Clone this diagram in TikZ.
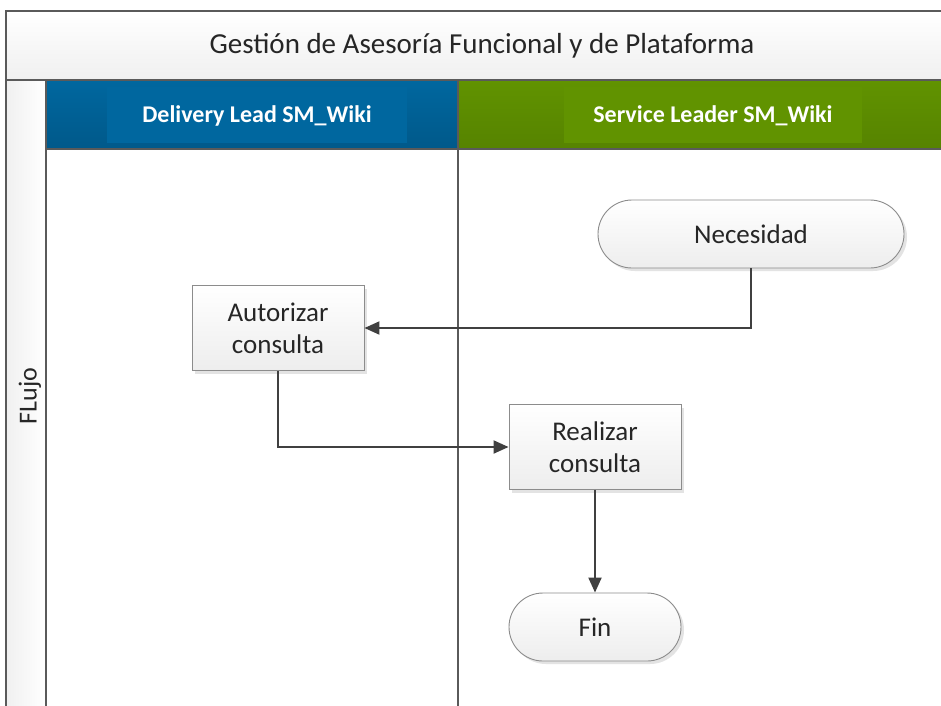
\documentclass[tikz,border=0pt]{standalone}
\usepackage{fontspec}
\setmainfont{Carlito}
\usetikzlibrary{arrows.meta,shadows}

\definecolor{frameline}{HTML}{5A5A5A}
\definecolor{flowline}{HTML}{404040}
\definecolor{inktext}{HTML}{262626}
\definecolor{laneblue}{HTML}{00679F}
\definecolor{laneblueD}{HTML}{00598A}
\definecolor{lanegreen}{HTML}{619300}
\definecolor{lanegreenD}{HTML}{568300}
\definecolor{boxline}{HTML}{8C8C8C}

\tikzset{
  band/.style={draw=frameline, line width=1.3pt},
  headtext/.style={text=white, font=\fontsize{24}{28}\selectfont\bfseries},
  boxbase/.style={draw=boxline, line width=0.9pt, top color=white, bottom color=gray!14,
    text=inktext, font=\fontsize{27}{32}\selectfont, align=center,
    drop shadow={shadow xshift=3pt, shadow yshift=-3pt, opacity=0.22, fill=gray}},
  procbox/.style={boxbase, rectangle, minimum width=172pt, minimum height=85pt, inner sep=0pt},
  termbox/.style={boxbase, rectangle, rounded corners=34pt, minimum height=68pt, inner sep=0pt},
  flow/.style={draw=flowline, line width=2pt, -{Triangle[length=15pt,width=13pt]}},
}

\begin{document}
\begin{tikzpicture}[x=1pt,y=-1pt]
  \clip (0,0) rectangle (941,705);

  % title band
  \path[band, top color=white, bottom color=gray!12] (6,11) rectangle (960,80);
  \node[text=inktext, font=\fontsize{29}{34}\selectfont] (title) at (482,46)
    {Gestión de Asesoría Funcional y de Plataforma};

  % left phase column
  \path[band, left color=gray!12, right color=white] (6,80) rectangle (46,720);
  \node[rotate=90, text=inktext, font=\fontsize{26}{30}\selectfont] (phase) at (30,396) {FLujo};

  % lane headers
  \path[band, top color=laneblue, bottom color=laneblueD] (46,80) rectangle (458,149);
  \fill[laneblue] (107,87) rectangle (407,143);
  \node[headtext] (laneA) at (257,116) {Delivery Lead SM\_Wiki};

  \path[band, top color=lanegreen, bottom color=lanegreenD] (458,80) rectangle (960,149);
  \fill[lanegreen] (564,87) rectangle (862,143);
  \node[headtext] (laneB) at (713,116) {Service Leader SM\_Wiki};

  % lane bodies
  \draw[band, fill=white] (46,149) rectangle (458,720);
  \draw[band, fill=white] (458,149) rectangle (960,720);

  % flow steps
  \node[termbox, minimum width=306pt] (nec) at (751,234) {Necesidad};
  \node[procbox] (aut) at (278,328) {Autorizar\\consulta};
  \node[procbox] (real) at (595,447) {Realizar\\consulta};
  \node[termbox, minimum width=172pt] (fin) at (595,627) {Fin};

  % connectors
  \draw[flow] (nec.south) |- (aut.east);
  \draw[flow] (aut.south) |- (real.west);
  \draw[flow] (real.south) -- (fin.north);
\end{tikzpicture}
\end{document}
